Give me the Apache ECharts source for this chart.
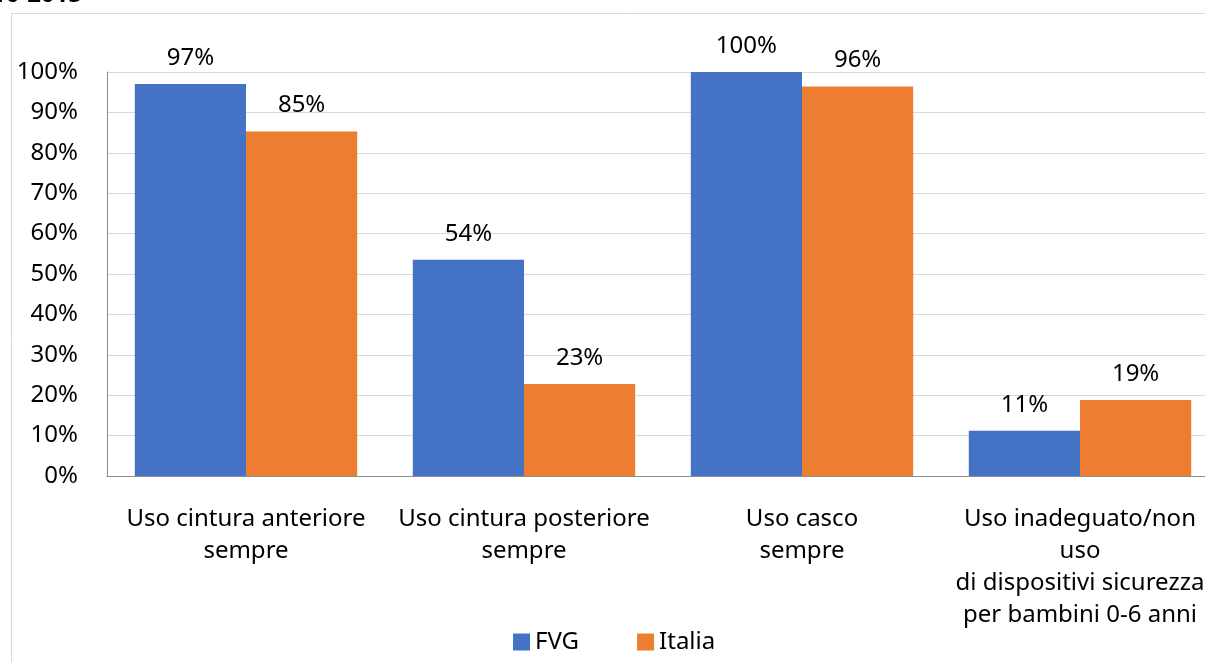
<!DOCTYPE html>
<html><head><meta charset="utf-8">
<script src="https://cdn.jsdelivr.net/npm/echarts@6/dist/echarts.min.js"></script>
<style>html,body{margin:0;padding:0;background:#fff;overflow:hidden}#c{width:1240px;height:662px}</style>
</head><body><div id="c"></div>
<script>
const categories = ["Uso cintura anteriore\nsempre", "Uso cintura posteriore\nsempre", "Uso casco\nsempre", "Uso inadeguato/non\nuso\ndi dispositivi sicurezza\nper bambini 0-6 anni"];
const fvg = [97, 53.5, 100, 11.2];
const italia = [85.3, 22.8, 96.4, 18.8];
const fvgLabels = ["97%", "54%", "100%", "11%"];
const italiaLabels = ["85%", "23%", "96%", "19%"];
const yTicks = [0, 10, 20, 30, 40, 50, 60, 70, 80, 90, 100];

const FONT = "'Noto Sans', 'Open Sans', sans-serif";
const FS = 24;
const chart = echarts.init(document.getElementById('c'));
chart.setOption({
  animation: false,
  textStyle: {fontFamily: FONT},
  graphic: [
    {type: 'line', shape: {x1: 11.5, y1: 13, x2: 11.5, y2: 662}, style: {stroke: '#d9d9d9', lineWidth: 1}},
    {type: 'line', shape: {x1: 11, y1: 13.5, x2: 1240, y2: 13.5}, style: {stroke: '#d9d9d9', lineWidth: 1}},
    {type: 'text', left: -8, top: -17, style: {text: '10-2015', font: "bold 24px 'Noto Sans', sans-serif", fill: '#000'}}
  ],
  grid: {left: 107, top: 72, width: 1112, height: 404, containLabel: false},
  legend: {
    bottom: 3, left: 508, itemWidth: 17, itemHeight: 17, itemGap: 58, icon: 'rect',
    textStyle: {fontSize: FS, color: '#000', fontFamily: FONT}, data: ['FVG', 'Italia']
  },
  xAxis: {
    type: 'category', data: categories,
    axisLine: {lineStyle: {color: '#8c8c8c'}}, axisTick: {show: false},
    axisLabel: {interval: 0, fontSize: FS, color: '#000', lineHeight: 32, margin: 27, fontFamily: FONT}
  },
  yAxis: {
    type: 'value', min: 0, max: 100, interval: 10,
    axisLine: {show: true, lineStyle: {color: '#8c8c8c'}}, axisTick: {show: false},
    splitLine: {lineStyle: {color: '#d9d9d9'}},
    axisLabel: {fontSize: FS, color: '#000', margin: 29, fontFamily: FONT,
      formatter: v => yTicks.includes(v) ? v + '%' : ''}
  },
  series: [
    {name: 'FVG', type: 'bar', data: fvg, barGap: '0%', barCategoryGap: '20%',
     itemStyle: {color: '#4472c4'},
     label: {show: true, position: 'top', distance: 14, fontSize: FS, color: '#000', fontFamily: FONT,
       formatter: p => fvgLabels[p.dataIndex]}},
    {name: 'Italia', type: 'bar', data: italia, barGap: '0%', barCategoryGap: '20%',
     itemStyle: {color: '#ed7d31'},
     label: {show: true, position: 'top', distance: 14, fontSize: FS, color: '#000', fontFamily: FONT,
       formatter: p => italiaLabels[p.dataIndex]}}
  ]
});
</script></body></html>
